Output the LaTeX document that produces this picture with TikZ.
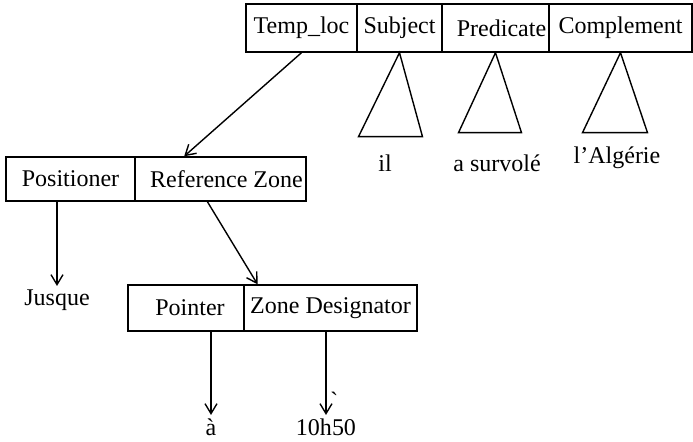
\documentclass[tikz,border=0pt]{standalone}
\usepackage{fontspec}
\setmainfont{Liberation Serif}
\usetikzlibrary{arrows.meta}
\begin{document}
\begin{tikzpicture}[x=0.5pt, y=-0.5pt, line width=0.7pt, font=\fontsize{12}{14}\selectfont,
		>={Straight Barb[length=5pt,width=6pt]},
		cell/.style={draw, inner sep=0pt},
		word/.style={inner sep=1.5pt}]
				\useasboundingbox (0,0) rectangle (693,442);
				\node[cell, minimum width=55.5pt, minimum height=24pt] (temploc) at (301.5,28) {Temp\_loc};
				\node[cell, minimum width=42.5pt, minimum height=24pt] (subj) at (399.5,28) {Subject};
				\node[cell, minimum width=53.5pt, minimum height=24pt] (pred) at (495.5,28) {\hspace{6pt}Predicate};
				\node[cell, minimum width=71.5pt, minimum height=24pt] (compl) at (620.5,28) {Complement};
				\draw (subj.south) -- ++(-41,84) -- ++(64,0) -- cycle;
				\draw (pred.south) -- ++(-37,80) -- ++(63,0) -- cycle;
				\draw (compl.south) -- ++(-38,80) -- ++(65,0) -- cycle;
				\node[word] (il) at (385,163) {il};
				\node[word] (survole) at (497,163) {a survolé};
				\node[word] (algerie) at (617,158) {l'Algérie};
				\node[cell, minimum width=64.5pt, minimum height=22pt] (posit) at (70.5,179) {Positioner};
				\node[cell, minimum width=85.5pt, minimum height=22pt] (refzone) at (220.5,179) {\hspace{6pt}Reference Zone};
				\draw [->] (temploc.south) -- (refzone.148);
				\node[word, anchor=north] (jusque) at (57,286) {Jusque};
				\draw [->] (jusque.north |- posit.south) -- (jusque.north);
				\node[cell, minimum width=58pt, minimum height=23pt] (pointer) at (186,308) {\hspace{4pt}Pointer};
				\node[cell, minimum width=86.5pt, minimum height=23pt] (zonedes) at (330.5,308) {Zone Designator};
				\draw [->] (refzone.240) -- (zonedes.162);
				\node[word, anchor=north] (agrave) at (211,415) {à};
				\node[word, anchor=north] (time) at (326,415) {10h\rlap{\smash{\raisebox{2ex}{\`{}}}}50};
				\draw [->] (agrave.north |- pointer.south) -- (agrave.north);
				\draw [->] (time.north |- zonedes.south) -- (time.north);
			\end{tikzpicture}
\end{document}
